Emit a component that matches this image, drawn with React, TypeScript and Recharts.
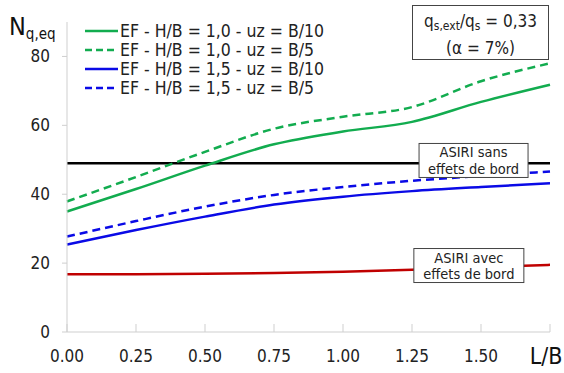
import { LineChart, Line, XAxis, YAxis, ReferenceDot } from 'recharts';

// L/B positions
const lbValues = [0, 0.25, 0.5, 0.75, 1.0, 1.25, 1.5, 1.75];

// N_q,eq values for each curve
const efH10uzB10 = [35, 41.5, 48.3, 54.5, 58.2, 61, 66.8, 71.8];
const efH10uzB5 = [37.9, 45, 52.3, 59, 62.5, 65.3, 72.8, 78];
const efH15uzB10 = [25.4, 29.6, 33.5, 37, 39.3, 40.9, 42.1, 43.2];
const efH15uzB5 = [27.7, 32.2, 36.4, 39.8, 42.1, 43.9, 45.3, 46.6];
const asiriSans = [49, 49, 49, 49, 49, 49, 49, 49];
const asiriAvec = [16.8, 16.8, 16.9, 17.1, 17.5, 18.1, 18.8, 19.5];

const xTicks = [0, 0.25, 0.5, 0.75, 1.0, 1.25, 1.5, 1.75];
const yTicks = [0, 20, 40, 60, 80];

const data = lbValues.map((lb, i) => ({
  lb,
  a: efH10uzB10[i],
  b: efH10uzB5[i],
  c: efH15uzB10[i],
  d: efH15uzB5[i],
  sans: asiriSans[i],
  avec: asiriAvec[i],
}));

const GREEN = '#12ac4f';
const BLUE = '#0a0ae6';
const RED = '#c00000';
const AXIS = '#cfcfcf';
const FONT = '"DejaVu Sans Condensed", "DejaVu Sans", sans-serif';

const legendRows = [
  { label: 'EF - H/B = 1,0 - uz = B/10', color: GREEN, dash: undefined },
  { label: 'EF - H/B = 1,0 - uz = B/5', color: GREEN, dash: '7 4' },
  { label: 'EF - H/B = 1,5 - uz = B/10', color: BLUE, dash: undefined },
  { label: 'EF - H/B = 1,5 - uz = B/5', color: BLUE, dash: '7 4' },
];

const XTick = ({ x, y, payload }: any) => {
  const last = payload.value === 1.75;
  return (
    <g>
      <line x1={x} y1={y - 10} x2={x} y2={y - 2} stroke={AXIS} strokeWidth={1} />
      {last ? (
        <text x={x - 4} y={y + 30} textAnchor="middle" fontSize={23} fill="#111" fontFamily={FONT}>
          L/B
        </text>
      ) : (
        <text x={x} y={y + 28} textAnchor="middle" fontSize={17} fill="#222" fontFamily={FONT}>
          {payload.value.toFixed(2)}
        </text>
      )}
    </g>
  );
};

const boxLabel = (lines: string[], w: number, h: number) => (props: any) => {
  const { cx, cy } = props;
  return (
    <g>
      <rect x={cx - w / 2} y={cy - h / 2} width={w} height={h} fill="#fff" stroke="#444" strokeWidth={1} />
      {lines.map((t, i) => (
        <text
          key={i}
          x={cx}
          y={cy - h / 2 + 14 + i * 16.5}
          textAnchor="middle"
          fontSize={14.5}
          fill="#222"
          fontFamily={FONT}
        >
          {t}
        </text>
      ))}
    </g>
  );
};

export default function App() {
  return (
    <div style={{ position: 'absolute', left: 0, top: 0, width: 564, height: 373, background: '#fff', fontFamily: FONT }}>
      <LineChart width={564} height={373} data={data} margin={{ top: 22, right: 14, bottom: 0, left: 0 }}>
        <XAxis
          dataKey="lb"
          type="number"
          domain={[0, 1.75]}
          ticks={xTicks}
          stroke={AXIS}
          tickLine={false}
          tickSize={0}
          tickMargin={2}
          height={41}
          tick={<XTick />}
          interval={0}
        />
        <YAxis
          type="number"
          domain={[0, 90]}
          ticks={yTicks}
          stroke={AXIS}
          width={67}
          tickSize={5}
          tickMargin={12}
          tick={{ fontSize: 17, fill: '#222', fontFamily: FONT }}
          interval={0}
        />
        <Line type="monotone" dataKey="sans" stroke="#000" strokeWidth={2.5} dot={false} isAnimationActive={false} />
        <Line type="monotone" dataKey="avec" stroke={RED} strokeWidth={2.5} dot={false} isAnimationActive={false} />
        <Line type="monotone" dataKey="c" stroke={BLUE} strokeWidth={2.5} dot={false} isAnimationActive={false} />
        <Line type="monotone" dataKey="d" stroke={BLUE} strokeWidth={2.5} strokeDasharray="8 5" dot={false} isAnimationActive={false} />
        <Line type="monotone" dataKey="a" stroke={GREEN} strokeWidth={2.5} dot={false} isAnimationActive={false} />
        <Line type="monotone" dataKey="b" stroke={GREEN} strokeWidth={2.5} strokeDasharray="8 5" dot={false} isAnimationActive={false} />
        <ReferenceDot x={1.473} y={49.8} r={0} shape={boxLabel(['ASIRI sans', 'effets de bord'], 109, 34)} />
        <ReferenceDot x={1.456} y={19.3} r={0} shape={boxLabel(['ASIRI avec', 'effets de bord'], 110, 34)} />
      </LineChart>

      {/* y axis title */}
      <div style={{ position: 'absolute', left: 9, top: 12, color: '#111', whiteSpace: 'nowrap' }}>
        <span style={{ fontSize: 25 }}>N</span>
        <sub style={{ fontSize: 15, verticalAlign: '-4px' }}>q,eq</sub>
      </div>

      {/* legend */}
      <div style={{ position: 'absolute', left: 85, top: 21 }}>
        {legendRows.map((r) => (
          <div key={r.label} style={{ display: 'flex', alignItems: 'center', height: 19, whiteSpace: 'nowrap' }}>
            <svg width={33} height={10} style={{ marginRight: 2 }}>
              <line x1={0} y1={5} x2={33} y2={5} stroke={r.color} strokeWidth={2.5} strokeDasharray={r.dash} />
            </svg>
            <span style={{ fontSize: 17.5, color: '#222' }}>{r.label}</span>
          </div>
        ))}
      </div>

      {/* parameter box */}
      <div
        style={{
          position: 'absolute',
          left: 412,
          top: 5,
          width: 137,
          height: 55,
          border: '1px solid #444',
          background: '#fff',
          textAlign: 'center',
          fontSize: 17,
          color: '#222',
          lineHeight: '22px',
          paddingTop: 4,
          boxSizing: 'border-box',
          whiteSpace: 'nowrap',
        }}
      >
        <div>
          q<sub style={{ fontSize: 12, verticalAlign: '-3px' }}>s,ext</sub>/q
          <sub style={{ fontSize: 12, verticalAlign: '-3px' }}>s</sub> = 0,33
        </div>
        <div>(α = 7%)</div>
      </div>
    </div>
  );
}
